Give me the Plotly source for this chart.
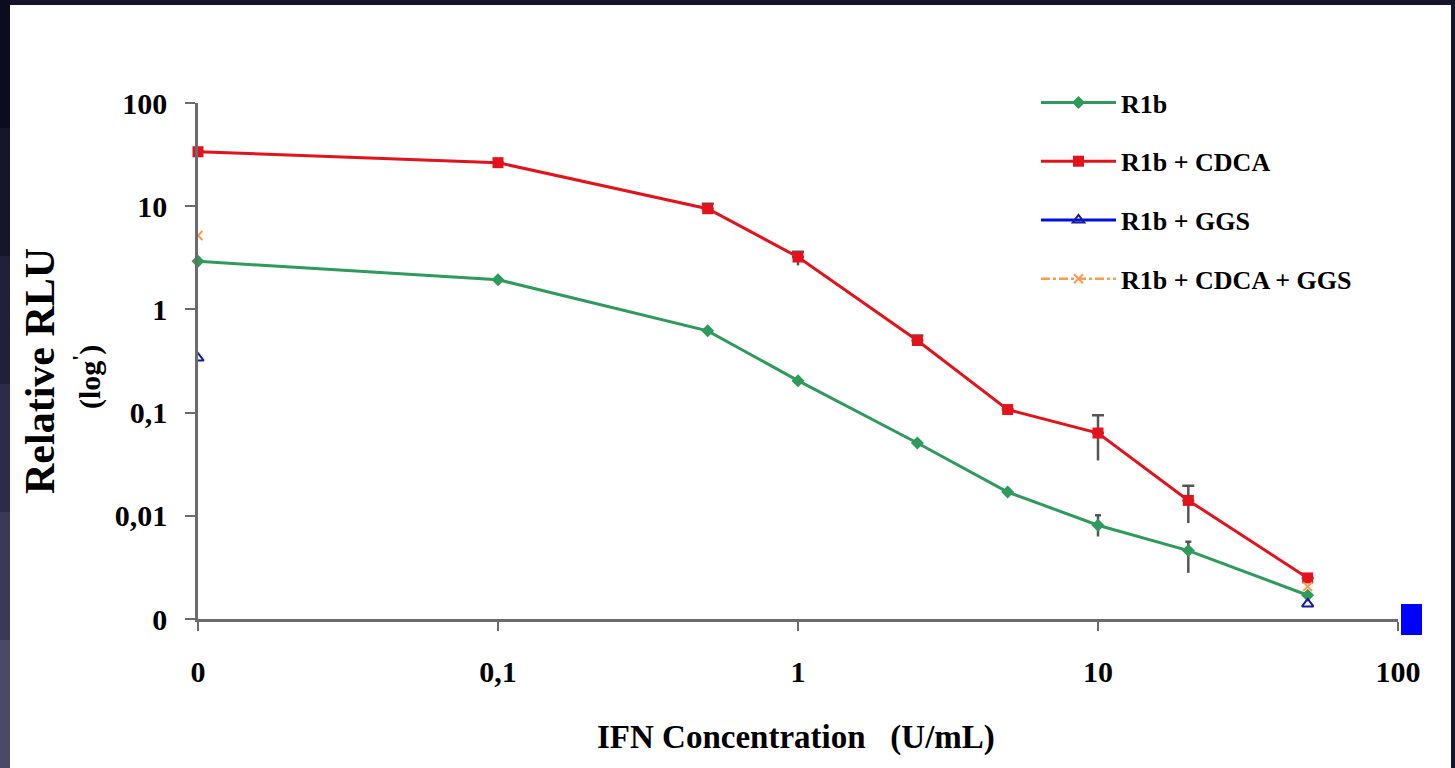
import plotly.graph_objects as go

# ---- data ----
conc = [0.01, 0.1, 0.5, 1, 2.5, 5, 10, 20, 50]   # 0.01 position is labelled "0"
r1b = [2.92, 1.94, 0.62, 0.204, 0.0507, 0.017, 0.0081, 0.0046, 0.0017]
r1b_cdca = [33.7, 26.4, 9.46, 3.22, 0.50, 0.107, 0.0634, 0.0141, 0.0025]
r1b_ggs = [0.338, None, None, None, None, None, None, None, 0.0014]
r1b_cdca_ggs = [5.2, None, None, None, None, None, None, None, 0.00206]

cdca_err_up = [None, None, 1.1, 0.4, 0.06, None, 0.031, 0.0055, None]
cdca_err_dn = [None, None, None, 0.55, None, None, 0.029, 0.0056, None]
r1b_err_up = [None, None, None, None, None, None, 0.002, 0.001, None]
r1b_err_dn = [None, None, None, None, None, None, 0.0018, 0.0018, None]

x_tickvals = [0.01, 0.1, 1, 10, 100]
x_ticktext = ["0", "0,1", "1", "10", "100"]
y_tickvals = [0.001, 0.01, 0.1, 1, 10, 100]
y_ticktext = ["0", "0,01", "0,1", "1", "10", "100"]

names = ["R1b", "R1b + CDCA", "R1b + GGS", "R1b + CDCA + GGS"]

GREEN = "#2e9a5c"
RED = "#e3121b"
BLUE = "#0010e0"
ORANGE = "#ff9a4d"
ERR = "#555555"
FONT = "Liberation Serif"

W, H = 1455, 768
L, R, T, B = 198, 57, 103, 149
PW, PH = W - L - R, H - T - B


def px_x(p):
    return (p - L) / PW


def px_y(p):
    return (H - B - p) / PH


fig = go.Figure()

# error bars (lower parts, no caps)
fig.add_trace(go.Scatter(
    x=conc, y=r1b_cdca, mode="markers", marker=dict(color="rgba(0,0,0,0)", size=1),
    error_y=dict(type="data", symmetric=False, array=[0 if v is not None else None for v in cdca_err_dn],
                 arrayminus=cdca_err_dn, color=ERR, thickness=2.5, width=0),
    showlegend=False, hoverinfo="skip"))
fig.add_trace(go.Scatter(
    x=conc, y=r1b, mode="markers", marker=dict(color="rgba(0,0,0,0)", size=1),
    error_y=dict(type="data", symmetric=False, array=[0 if v is not None else None for v in r1b_err_dn],
                 arrayminus=r1b_err_dn, color=ERR, thickness=2.5, width=0),
    showlegend=False, hoverinfo="skip"))

# main series
fig.add_trace(go.Scatter(
    x=conc, y=r1b, name=names[0], mode="lines+markers", cliponaxis=False,
    line=dict(color=GREEN, width=3),
    marker=dict(symbol="diamond", size=10, color=GREEN),
    error_y=dict(type="data", symmetric=False, array=r1b_err_up,
                 arrayminus=[0 if v is not None else None for v in r1b_err_up],
                 color=ERR, thickness=2.5, width=3),
    legendgroup="a"))
fig.add_trace(go.Scatter(
    x=conc, y=r1b_cdca, name=names[1], mode="lines+markers", cliponaxis=False,
    line=dict(color=RED, width=3),
    marker=dict(symbol="square", size=11, color=RED),
    error_y=dict(type="data", symmetric=False, array=cdca_err_up,
                 arrayminus=[0 if v is not None else None for v in cdca_err_up],
                 color=ERR, thickness=2.5, width=6),
    legendgroup="b"))
fig.add_trace(go.Scatter(
    x=conc, y=r1b_ggs, name=names[2], mode="lines+markers", connectgaps=False,
    line=dict(color=BLUE, width=3),
    marker=dict(symbol="triangle-up-open", size=10, color="#1a1aa0", line=dict(width=2)),
    legendgroup="c"))
fig.add_trace(go.Scatter(
    x=conc, y=r1b_cdca_ggs, name=names[3], mode="lines+markers", connectgaps=False,
    line=dict(color=ORANGE, width=2.5, dash="dashdot"),
    marker=dict(symbol="x-thin-open", size=9, color=ORANGE, line=dict(width=2, color=ORANGE)),
    legendgroup="d"))

axis_common = dict(
    type="log", showgrid=False, zeroline=False, showline=True,
    linecolor="#6b6b6b", linewidth=2.5, ticks="outside", tickcolor="#6b6b6b",
    tickwidth=2, tickfont=dict(family=FONT, size=30, color="black", weight="bold"),
    mirror=False,
)

fig.update_xaxes(range=[-2, 2], tickvals=x_tickvals, ticktext=x_ticktext,
                 ticklen=9, ticklabelstandoff=15, **axis_common)
fig.update_yaxes(range=[-3, 2], tickvals=y_tickvals, ticktext=y_ticktext,
                 ticklen=10, ticklabelstandoff=12, **axis_common)

shapes = [
    dict(type="rect", xref="paper", yref="paper", layer="below",
         x0=px_x(10), x1=px_x(1451), y0=px_y(768), y1=px_y(5),
         fillcolor="white", line=dict(width=0)),
]
# left border gradient
grad = ["#0c0c20", "#15152c", "#20203a", "#2c2c48", "#3a3a56", "#4a4a66"]
n = len(grad)
for i, c in enumerate(grad):
    shapes.append(dict(type="rect", xref="paper", yref="paper", layer="below",
                       x0=px_x(0), x1=px_x(10), y0=px_y(768 * (i + 1) / n), y1=px_y(768 * i / n),
                       fillcolor=c, line=dict(width=0)))
# blue square artifact at the right end of the x axis
shapes.append(dict(type="rect", xref="paper", yref="paper",
                   x0=px_x(1401), x1=px_x(1422), y0=px_y(635), y1=px_y(604),
                   fillcolor="#0000ff", line=dict(width=0)))

annotations = [
    dict(text="Relative RLU", xref="paper", yref="paper", x=px_x(40), y=px_y(371),
         textangle=-90, showarrow=False, xanchor="center", yanchor="middle",
         font=dict(family=FONT, size=42, color="black", weight="bold")),
    dict(text="(log<sup>'</sup>)", xref="paper", yref="paper", x=px_x(87), y=px_y(377),
         textangle=-90, showarrow=False, xanchor="center", yanchor="middle",
         font=dict(family=FONT, size=30, color="black", weight="bold")),
    dict(text="IFN Concentration   (U/mL)", xref="paper", yref="paper", x=px_x(796), y=px_y(737),
         showarrow=False, xanchor="center", yanchor="middle",
         font=dict(family=FONT, size=33, color="black", weight="bold")),
]

fig.update_layout(
    width=W, height=H,
    margin=dict(l=L, r=R, t=T, b=B, pad=0),
    paper_bgcolor="#14142c", plot_bgcolor="white",
    shapes=shapes, annotations=annotations,
    showlegend=True,
    legend=dict(x=px_x(1036), y=px_y(79), xanchor="left", yanchor="top",
                bgcolor="rgba(0,0,0,0)", itemwidth=75, tracegroupgap=22,
                traceorder="grouped",
                font=dict(family=FONT, size=26, color="black", weight="bold")),
)

fig.write_html("out.html")
